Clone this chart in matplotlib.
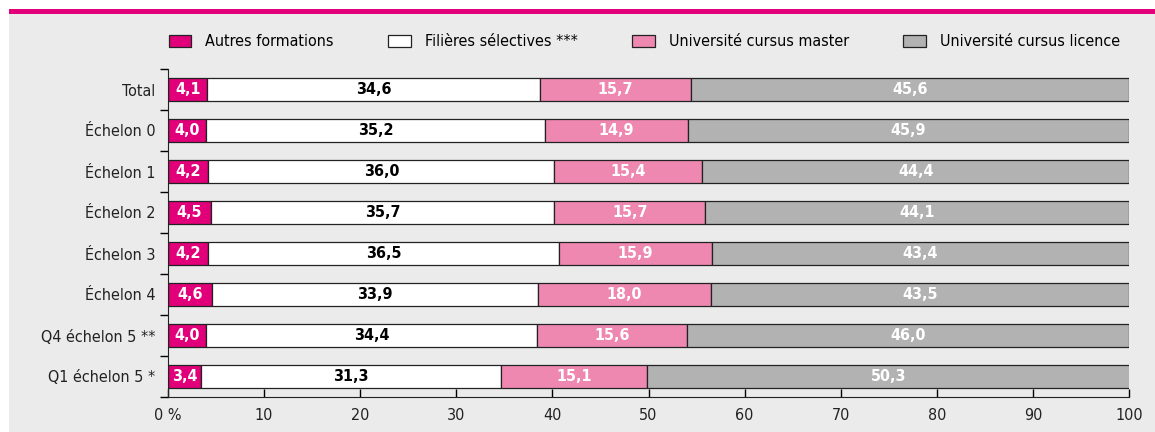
import matplotlib
matplotlib.use("Agg")
import matplotlib.pyplot as plt
from matplotlib.patches import Rectangle, Patch

plt.rcParams['font.family'] = ['DejaVu Sans']
plt.rcParams['font.stretch'] = 'condensed'

categories = ["Total", "Échelon 0", "Échelon 1", "Échelon 2", "Échelon 3",
              "Échelon 4", "Q4 échelon 5 **", "Q1 échelon 5 *"]
autres = [4.1, 4.0, 4.2, 4.5, 4.2, 4.6, 4.0, 3.4]
selectives = [34.6, 35.2, 36.0, 35.7, 36.5, 33.9, 34.4, 31.3]
master = [15.7, 14.9, 15.4, 15.7, 15.9, 18.0, 15.6, 15.1]
licence = [45.6, 45.9, 44.4, 44.1, 43.4, 43.5, 46.0, 50.3]

series = [("Autres formations", autres, "#e2007a", "white"),
          ("Filières sélectives ***", selectives, "#ffffff", "black"),
          ("Université cursus master", master, "#ee88b1", "white"),
          ("Université cursus licence", licence, "#b2b2b2", "white")]

bg = "#ebebeb"
fig = plt.figure(figsize=(11.55, 4.32), dpi=100)
fig.patch.set_facecolor("white")
fig.add_artist(Rectangle((9 / 1155, 0), 1, 1 - 14 / 432, transform=fig.transFigure,
                         facecolor=bg, edgecolor="none", zorder=-2))
fig.add_artist(Rectangle((9 / 1155, 1 - 14 / 432), 1, 5 / 432, transform=fig.transFigure,
                         facecolor="#e2007a", edgecolor="none", zorder=-1))

ax = fig.add_axes([168 / 1155, 1 - 397 / 432, (1129 - 168) / 1155, (397 - 69) / 432])
ax.set_facecolor("none")

y = list(range(len(categories)))
left = [0] * len(categories)
handles = []
for name, vals, col, tcol in series:
    ax.barh(y, vals, left=left, height=0.54, color=col, edgecolor="#222222", linewidth=0.9)
    for i, v in enumerate(vals):
        ax.text(left[i] + v / 2, i, f"{v:.1f}".replace(".", ","), ha="center", va="center",
                color=tcol, fontsize=11.5, fontweight="bold")
    left = [l + v for l, v in zip(left, vals)]
    handles.append(Patch(facecolor=col, edgecolor="#222222", linewidth=0.9, label=name))

ax.set_xlim(0, 100)
ax.set_ylim(7.5, -0.5)
ax.set_yticks(y)
ax.set_yticklabels(categories, fontsize=11.5, color="#222222")
ax.set_yticks([i - 0.5 for i in range(len(categories) + 1)], minor=True)
ax.tick_params(axis="y", which="major", length=0, pad=9)
ax.tick_params(axis="y", which="minor", length=6, direction="out", width=1)
ax.set_xticks(range(0, 101, 10))
ax.set_xticklabels(["0 %"] + [str(v) for v in range(10, 101, 10)], fontsize=11.5, color="#222222")
ax.tick_params(axis="x", length=6, direction="in", width=1, pad=8)
for s in ["top", "right"]:
    ax.spines[s].set_visible(False)
for s in ["left", "bottom"]:
    ax.spines[s].set_color("#222222")

fig.legend(handles=handles, loc="center", bbox_to_anchor=(0.558, 1 - 42 / 432), ncol=4,
           frameon=False, fontsize=11.5, handlelength=1.4, handleheight=0.8,
           columnspacing=3.4, handletextpad=0.9)

fig.savefig("out.png", dpi=100, facecolor=fig.get_facecolor())
